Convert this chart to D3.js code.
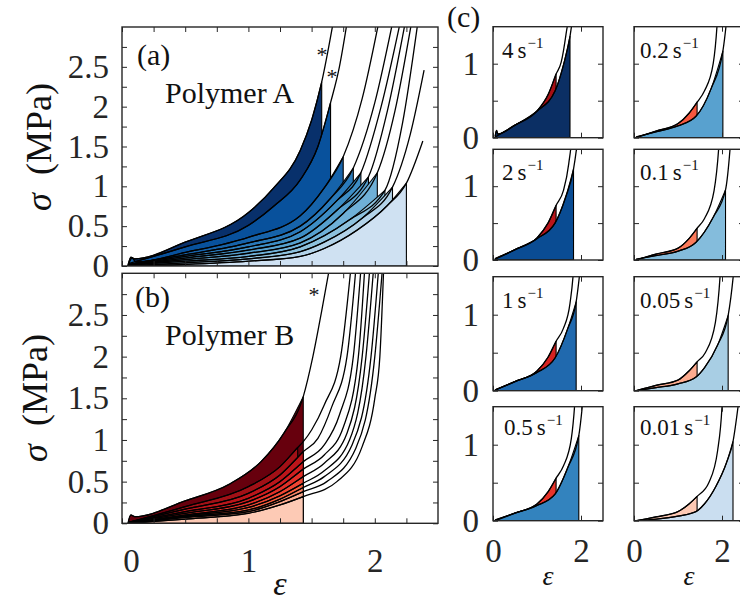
<!DOCTYPE html>
<html>
<head>
<meta charset="utf-8">
<script src="https://cdn.jsdelivr.net/npm/d3@7/dist/d3.min.js"></script>
<style>
body{margin:0}
svg text, svg tspan{font-family:"Liberation Serif","Tinos","Noto Serif","DejaVu Serif","Noto Serif CJK SC",serif;}
</style>
</head>
<body>
<svg id="fig" width="740" height="601"></svg>
<script>
// ---------------- DATA ----------------
// Polymer A: [strain ε, stress σ (MPa)]
const A1  = [[0.05,0.02],[0.07,0.11],[0.1,0.09],[0.5,0.3],[1.0,0.67],[1.2,0.98],[1.41,1.45],[1.5,1.83],[1.58,2.31],[1.67,3.05]];
const A2  = [[0.05,0.03],[0.5,0.24],[1.0,0.51],[1.2,0.75],[1.41,1.08],[1.55,1.5],[1.65,2.05],[1.72,2.5],[1.78,3.05]];
const A3  = [[0.05,0.02],[0.08,0.1],[0.11,0.05],[0.5,0.17],[1.0,0.36],[1.41,0.63],[1.6,0.98],[1.75,1.37],[1.9,2.1],[2.03,3.05]];
const A4  = [[0.05,0.02],[0.5,0.14],[1.0,0.29],[1.41,0.5],[1.65,0.85],[1.83,1.23],[2.0,2.05],[2.14,3.05]];
const A5  = [[0.05,0.01],[0.5,0.12],[1.0,0.24],[1.41,0.43],[1.7,0.82],[1.89,1.17],[2.05,2.0],[2.2,3.05]];
const A6  = [[0.05,0.01],[0.5,0.1],[1.0,0.2],[1.41,0.35],[1.7,0.7],[1.95,1.12],[2.1,1.95],[2.24,3.05]];
const A7  = [[0.05,0.01],[0.5,0.08],[1.0,0.16],[1.41,0.29],[1.75,0.66],[2.02,1.17],[2.16,1.95],[2.29,3.05]];
const A8  = [[0.05,0.01],[0.5,0.06],[1.0,0.12],[1.41,0.24],[1.8,0.58],[2.08,0.95],[2.22,1.8],[2.34,3.05]];
const A9  = [[0.05,0.0],[0.5,0.04],[1.0,0.09],[1.41,0.18],[1.6,0.3],[1.9,0.6],[2.14,0.99],[2.28,1.65],[2.39,2.46]];
const A10 = [[0.05,0.0],[0.5,0.02],[1.0,0.06],[1.41,0.12],[1.6,0.22],[1.86,0.45],[2.1,0.76],[2.25,1.04],[2.38,1.57]];
const breakA = [1.58,1.65,1.75,1.83,1.89,1.95,2.02,2.08,2.14,2.25];

// Polymer B
const B1  = [[0.05,0.02],[0.07,0.1],[0.1,0.08],[0.5,0.27],[0.85,0.47],[1.1,0.74],[1.28,1.08],[1.434,1.52],[1.51,2.0],[1.58,2.55],[1.64,3.05]];
const B2  = [[0.05,0.01],[0.5,0.2],[1.0,0.44],[1.25,0.68],[1.39,0.91],[1.434,0.98],[1.5,1.12],[1.6,1.42],[1.73,2.0],[1.81,3.05]];
const B3  = [[0.05,0.01],[0.5,0.17],[1.0,0.36],[1.25,0.58],[1.434,0.86],[1.55,1.02],[1.66,1.4],[1.78,2.0],[1.85,3.05]];
const B4  = [[0.05,0.01],[0.5,0.14],[1.0,0.3],[1.25,0.5],[1.434,0.74],[1.6,0.94],[1.72,1.3],[1.83,2.0],[1.89,3.05]];
const B5  = [[0.05,0.01],[0.5,0.12],[1.0,0.26],[1.25,0.44],[1.434,0.65],[1.6,0.82],[1.75,1.15],[1.87,2.0],[1.92,3.05]];
const B6  = [[0.05,0.0],[0.5,0.1],[1.0,0.22],[1.25,0.38],[1.434,0.56],[1.6,0.72],[1.78,1.08],[1.9,2.0],[1.96,3.05]];
const B7  = [[0.05,0.0],[0.5,0.09],[1.0,0.19],[1.25,0.33],[1.434,0.48],[1.6,0.63],[1.8,1.0],[1.93,2.0],[1.99,3.05]];
const B8  = [[0.05,0.0],[0.5,0.08],[1.0,0.16],[1.25,0.29],[1.434,0.43],[1.6,0.56],[1.82,0.94],[1.97,2.0],[2.03,3.05]];
const B9  = [[0.05,0.0],[0.5,0.07],[1.0,0.14],[1.25,0.26],[1.434,0.38],[1.62,0.5],[1.85,0.9],[2.0,2.0],[2.06,3.05]];
const B10 = [[0.05,0.0],[0.5,0.05],[1.0,0.12],[1.25,0.22],[1.434,0.32],[1.7,0.5],[1.9,0.92],[2.0,1.5],[2.04,2.0],[2.07,3.05]];
const breakB = [1.434,1.39,1.434,1.434,1.434,1.434,1.434,1.434,1.434,1.434];

// Strain rates shown in panel (c) (curves 3..10)
const rates = ["4","2","1","0.5","0.2","0.1","0.05","0.01"];

// Ticks
const xTickVals = [0,0.25,0.5,0.75,1,1.25,1.5,1.75,2,2.25];
const xTickLabels = [0,1,2];
const yTickVals = [0,0.25,0.5,0.75,1,1.25,1.5,1.75,2,2.25,2.5,2.75];
const yTickLabels = [0,0.5,1,1.5,2,2.5];
const cXTickVals = [0,2];
const cYTickVals = [0,0.5,1];
const cYTickLabels = [0,1];

// ---------------- STYLE ----------------
const curvesA = [A1,A2,A3,A4,A5,A6,A7,A8,A9,A10];
const curvesB = [B1,B2,B3,B4,B5,B6,B7,B8,B9,B10];
const blues10 = ["#08306b","#08519c","#1663aa","#2a7aba","#3d8dc4","#56a0ce","#6fb0d7","#8dc1dd","#b2d2e8","#cfe1f2"];
const reds10  = ["#67000d","#a11016","#bb151a","#cf1d1f","#e12f27","#ef4532","#f8603f","#fb8464","#fcaa8e","#fdcab5"];
const blues8  = ["#0b2f64","#0a4c93","#2069ae","#3383be","#58a1cf","#84bcdc","#a8cee4","#cadef0"];
const reds8   = ["#a50f15","#b8151b","#d52221","#e6332a","#f6573e","#fb7a5a","#fcab8f","#fdc9b4"];

const FONT = '"Liberation Serif"';
const AX = "#262626";
const svg = d3.select("#fig");
const defs = svg.append("defs");
let clipN = 0;

function makeClip(x0,y0,x1,y1){
  const id = "clip"+(clipN++);
  defs.append("clipPath").attr("id",id).append("rect")
    .attr("x",x0).attr("y",y0).attr("width",x1-x0).attr("height",y1-y0);
  return id;
}

function fillCurve(g,x,y,c,brk,color){
  const area = d3.area().x(d=>x(d[0])).y0(y(0)).y1(d=>y(d[1])).curve(d3.curveMonotoneX);
  const pts = c.filter(p=>p[0]<=brk+1e-9);
  g.append("path").attr("d",area(pts)).attr("fill",color)
    .attr("stroke","#000").attr("stroke-width",1.1).attr("stroke-linejoin","round");
}
function lineCurve(g,x,y,c){
  const line = d3.line().x(d=>x(d[0])).y(d=>y(d[1])).curve(d3.curveMonotoneX);
  g.append("path").attr("d",line(c)).attr("fill","none")
    .attr("stroke","#000").attr("stroke-width",1.3);
}

function frameAxes(x,y,opt){
  const [x0,x1] = x.range(); const [y0,y1] = y.range();
  const g = svg.append("g");
  const fmt = (labels)=> d => labels.includes(d) ? d3.format("~g")(d) : "";
  g.append("g").attr("transform",`translate(${x0},0)`)
    .call(d3.axisLeft(y).tickValues(opt.yt).tickSize(-5).tickPadding(opt.ypad).tickFormat(opt.yl ? fmt(opt.yl) : ""));
  g.append("g").attr("transform",`translate(${x1},0)`)
    .call(d3.axisRight(y).tickValues(opt.yt).tickSize(-5).tickFormat(""));
  const gb = g.append("g").attr("transform",`translate(0,${y0})`)
    .call(d3.axisBottom(x).tickValues(opt.xt).tickSize(-5).tickPadding(opt.xpad||0).tickFormat(opt.xl ? fmt(opt.xl) : ""));
  g.append("g").attr("transform",`translate(0,${y1})`)
    .call(d3.axisTop(x).tickValues(opt.xt).tickSize(-5).tickFormat(""));
  g.selectAll(".domain").remove();
  g.selectAll("g").attr("font-family",null).attr("font-size",null);
  g.selectAll(".tick line").attr("stroke",AX).attr("stroke-width",1);
  g.selectAll(".tick text").style("font-family",FONT).attr("font-size",opt.fs).attr("fill",AX);
  if(opt.zeroShift){
    gb.selectAll(".tick text").filter(d=>d===0).attr("dx",opt.zeroShift);
  }
  g.append("rect").attr("x",x0).attr("y",y1).attr("width",x1-x0).attr("height",y0-y1)
    .attr("fill","none").attr("stroke",AX).attr("stroke-width",1.4);
  return g;
}

function txt(x,y,s,fs,opts={}){
  const t = svg.append("text").attr("x",x).attr("y",y).style("font-family",FONT)
    .attr("font-size",fs).attr("fill","#111").text(s);
  if(opts.anchor) t.attr("text-anchor",opts.anchor);
  if(opts.italic) t.attr("font-style","italic");
  return t;
}

// ---------------- PANEL (a) ----------------
const xA = d3.scaleLinear([0,2.5],[122,438]);
const yA = d3.scaleLinear([0,3],[266,27]);
{
  const cg = svg.append("g").attr("clip-path",`url(#${makeClip(122,27,438,266)})`);
  curvesA.forEach((c,i)=>fillCurve(cg,xA,yA,c,breakA[i],blues10[i]));
  curvesA.forEach(c=>lineCurve(cg,xA,yA,c));
  frameAxes(xA,yA,{xt:xTickVals,yt:yTickVals,yl:yTickLabels,ypad:13,fs:33});
}
// ---------------- PANEL (b) ----------------
const xB = d3.scaleLinear([0,2.5],[122,438]);
const yB = d3.scaleLinear([0,3],[523.3,273.3]);
{
  const cg = svg.append("g").attr("clip-path",`url(#${makeClip(122,273.3,438,523.3)})`);
  curvesB.forEach((c,i)=>fillCurve(cg,xB,yB,c,breakB[i],reds10[i]));
  curvesB.forEach(c=>lineCurve(cg,xB,yB,c));
  frameAxes(xB,yB,{xt:xTickVals,xl:xTickLabels,xpad:25,yt:yTickVals,yl:yTickLabels,ypad:13,fs:33,zeroShift:9});
}

// ---------------- PANEL (c) ----------------
const colLeft = [493,634];
const rowBox = [[26.7,137.7],[149.3,260],[276.7,390.7],[406.7,520.7]];
rates.forEach((r,i)=>{
  const col = i<4?0:1, row = i%4;
  const L = colLeft[col], R = L+110;
  const [T,Bt] = rowBox[row];
  const x = d3.scaleLinear([0,2.5],[L,R]);
  const y = d3.scaleLinear([0,1.5],[Bt,T]);
  const k = i+2;
  const cg = svg.append("g").attr("clip-path",`url(#${makeClip(L,T,R,Bt)})`);
  fillCurve(cg,x,y,curvesB[k],breakB[k],reds8[i]);
  fillCurve(cg,x,y,curvesA[k],breakA[k],blues8[i]);
  lineCurve(cg,x,y,curvesB[k]);
  lineCurve(cg,x,y,curvesA[k]);
  frameAxes(x,y,{xt:cXTickVals,xl: row===3?[0,2]:null,xpad:18,yt:cYTickVals,yl: col===0?cYTickLabels:null,ypad:14,fs:33});
  const t = svg.append("text").attr("x",L+(col===0?(row===3?11:9):6)).attr("y",T+(row===3?28.5:31))
    .style("font-family",FONT).attr("font-size",23).attr("fill","#111");
  t.append("tspan").text(r);
  t.append("tspan").attr("dx",4).text("s");
  t.append("tspan").attr("font-size",15).attr("dy",-10).attr("dx",1).text("\u22121");
});

// ---------------- LABELS ----------------
txt(137,64.5,"(a)",30);
txt(165,103,"Polymer A",30);
txt(135,307,"(b)",30);
txt(165,345,"Polymer B",30);
txt(447,27,"(c)",30);
txt(322,62,"*",22,{anchor:"middle"});
txt(332,84,"*",22,{anchor:"middle"});
txt(314,302,"*",22,{anchor:"middle"});

function ylab(cy,base){
  const t = svg.append("text").attr("transform",`translate(${base},${cy}) rotate(-90)`)
    .attr("text-anchor","middle").style("font-family",FONT).attr("font-size",36).attr("fill","#111");
  t.append("tspan").attr("font-style","italic").text("σ");
  t.append("tspan").text("\u2002(MPa)");
}
ylab(147,51);
ylab(398,47);

txt(280,595,"ε",34,{anchor:"middle",italic:true});
txt(548,585,"ε",28,{anchor:"middle",italic:true});
txt(689,585,"ε",28,{anchor:"middle",italic:true});
</script>
</body>
</html>
